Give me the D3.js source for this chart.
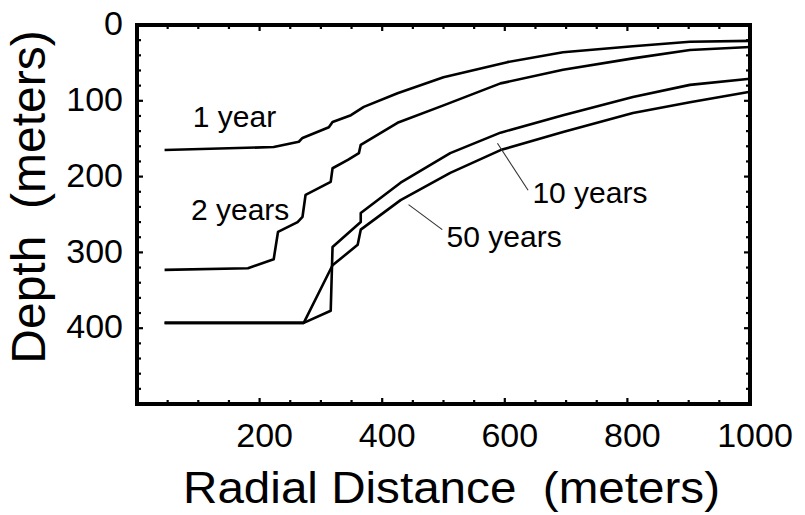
<!DOCTYPE html>
<html><head><meta charset="utf-8">
<script src="https://cdn.jsdelivr.net/npm/d3@7"></script>
<style>html,body{margin:0;padding:0;background:#fff;}svg{display:block;}</style>
</head><body>
<svg id="chart" width="805" height="515"></svg>
<script>
// ---- data (x: radial distance m, d: depth m) ----
const xTickValues = [200, 400, 600, 800, 1000];
const yTickValues = [0, 100, 200, 300, 400];
const year1 = [[45,165],[223,161],[264,154],[270,149],[313,135],[319,128],[349,119],[370,108],[425,90],[500,69],[604,49],[695,36],[809,28],[902,22],[1000,21]];
const year2 = [[45,323],[181,321],[223,309],[230,273],[262,260],[270,253],[275,224],[316,207],[319,189],[344,178],[362,169],[365,158],[425,129],[500,106],[593,77],[695,59],[809,44],[902,33],[1000,29]];
const year10 = [[45,393],[272,393],[316,377],[319,293],[365,260],[365,248],[430,208],[511,169],[593,142],[695,119],[809,95],[902,79],[1000,71]];
const year50 = [[45,393],[272,393],[319,317],[360,290],[365,270],[430,231],[511,195],[593,165],[695,141],[809,116],[902,102],[1000,88]];
const labels = [
  {text:"1 year",   x:91,  d:135},
  {text:"2 years",  x:88,  d:257},
  {text:"10 years", x:645, d:235},
  {text:"50 years", x:505, d:293}
];
const leaders = [
  {x1:588, d1:156, x2:638, d2:218},
  {x1:443, d1:237, x2:498, d2:270}
];

const svg = d3.select("#chart");
const L = 137, R = 750, T = 25, B = 404;
const x = d3.scaleLinear().domain([0, 1000]).range([L, R]);
const y = d3.scaleLinear().domain([0, 500]).range([T, B]);
const font = "'Liberation Sans', Arial, sans-serif";

svg.append("rect").attr("width",805).attr("height",515).attr("fill","#fff");

// minor/major ticks inside the frame
const g = svg.append("g");
d3.range(50, 1000, 50).forEach(v => {
  const len = v % 200 === 0 ? 6 : 4;
  g.append("line").attr("x1",x(v)).attr("x2",x(v)).attr("y1",B).attr("y2",B-len).attr("stroke","#000").attr("stroke-width",2.2);
  g.append("line").attr("x1",x(v)).attr("x2",x(v)).attr("y1",T).attr("y2",T+len).attr("stroke","#000").attr("stroke-width",2.2);
});
d3.range(20, 500, 20).forEach(v => {
  const len = v % 100 === 0 ? 6 : 4;
  g.append("line").attr("y1",y(v)).attr("y2",y(v)).attr("x1",L).attr("x2",L+len).attr("stroke","#000").attr("stroke-width",2.2);
  g.append("line").attr("y1",y(v)).attr("y2",y(v)).attr("x1",R).attr("x2",R-len).attr("stroke","#000").attr("stroke-width",2.2);
});

// tick labels
svg.append("g").selectAll("text").data(xTickValues).join("text")
  .attr("x", d => x(d) + 5).attr("y", 447)
  .attr("text-anchor","middle").attr("font-family",font).attr("font-size",34)
  .text(d => d);
svg.append("g").selectAll("text").data(yTickValues).join("text")
  .attr("x", 123).attr("y", d => y(d) - 2).attr("dy","0.36em")
  .attr("text-anchor","end").attr("font-family",font).attr("font-size",34)
  .text(d => d);

// curves
const line = d3.line().x(p => x(p[0])).y(p => y(p[1]));
[year1, year2, year10, year50].forEach(s => {
  svg.append("path").attr("d", line(s)).attr("fill","none")
    .attr("stroke","#000").attr("stroke-width",2.6).attr("stroke-linejoin","round");
});

// leaders
leaders.forEach(l => {
  svg.append("line").attr("x1",x(l.x1)).attr("y1",y(l.d1)).attr("x2",x(l.x2)).attr("y2",y(l.d2))
    .attr("stroke","#333").attr("stroke-width",1.1);
});
// curve labels
svg.append("g").selectAll("text").data(labels).join("text")
  .attr("x", d => x(d.x)).attr("y", d => y(d.d))
  .attr("font-family",font).attr("font-size",30).text(d => d.text);

// frame
svg.append("rect").attr("x",L).attr("y",T).attr("width",R-L).attr("height",B-T)
  .attr("fill","none").attr("stroke","#000").attr("stroke-width",4);

// axis titles
svg.append("text").attr("x",183).attr("y",503)
  .attr("font-family",font).attr("font-size",44)
  .attr("textLength",537).attr("lengthAdjust","spacingAndGlyphs")
  .style("white-space","pre").text("Radial Distance  (meters)");
svg.append("text").attr("transform","translate(45,197) rotate(-90)").attr("text-anchor","middle")
  .attr("font-family",font).attr("font-size",48)
  .style("white-space","pre").text("Depth  (meters)");
</script>
</body></html>
